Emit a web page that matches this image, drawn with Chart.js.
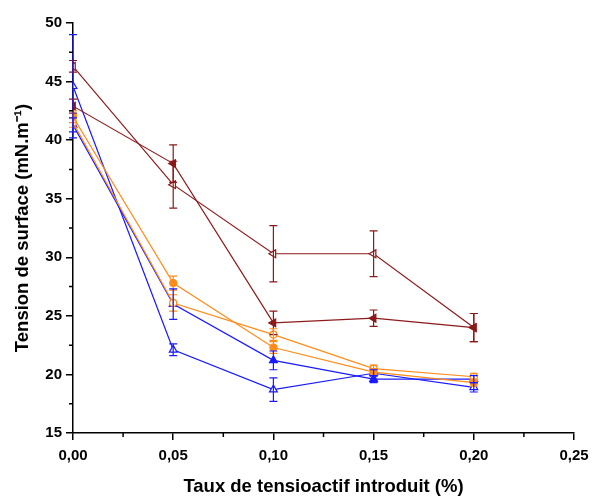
<!DOCTYPE html>
<html lang="fr">
<head>
<meta charset="UTF-8">
<title>Tension de surface</title>
<script src="https://cdn.jsdelivr.net/npm/chart.js"></script>
<style>
  html, body { margin: 0; padding: 0; background: #fff; }
  #wrap { width: 602px; height: 498px; }
</style>
</head>
<body>
<div id="wrap"><canvas id="chart" width="602" height="498"></canvas></div>
<script>
// taux de tensioactif (%)
var taux = [0, 0.05, 0.10, 0.15, 0.20];

// tension de surface (mN/m) and error bars, one pair per series
var rougePlein = [42.9, 38.0, 24.4, 24.8, 24.0];
var rougePleinErr = [0.6, 1.6, 1.0, 0.7, 1.2];
var rougeVide = [46.3, 36.2, 30.3, 30.3, 24.0];
var rougeVideErr = [0.5, 2.0, 2.4, 1.95, 1.2];
var orangePlein = [42.0, 27.8, 22.3, 20.2, 19.3];
var orangePleinErr = [0.5, 0.6, 0.5, 0.3, 0.3];
var orangeVide = [41.5, 26.1, 23.4, 20.5, 19.8];
var orangeVideErr = [0.4, 0.7, 0.5, 0.3, 0.3];
var bleuPlein = [41.3, 26.0, 21.2, 19.6, 19.6];
var bleuPleinErr = [0.6, 1.3, 0.8, 0.3, 0.3];
var bleuVide = [44.6, 22.1, 18.7, 20.1, 18.9];
var bleuVideErr = [4.4, 0.5, 1.0, 0.3, 0.4];

var yTicks = [15, 20, 25, 30, 35, 40, 45, 50];
var xTicks = [0, 0.05, 0.10, 0.15, 0.20, 0.25];

var ROUGE = '#8b1a1a', ORANGE = '#ff8c1a', BLEU = '#1a1aff';

function pts(ys, errs) {
  return taux.map(function (x, i) { return { x: x, y: ys[i], err: errs[i] }; });
}

function serie(ys, errs, color, style, filled, rot) {
  return {
    data: pts(ys, errs),
    borderColor: color,
    backgroundColor: color,
    borderWidth: 1.2,
    pointStyle: style,
    rotation: rot || 0,
    pointRadius: style === 'circle' ? 3.5 : 4.5,
    pointBorderWidth: 1.2,
    pointBorderColor: color,
    pointBackgroundColor: filled ? color : '#fff',
    tension: 0
  };
}

// error bars with caps, through the chart's scales
var errorBars = {
  id: 'errorBars',
  afterDatasetsDraw: function (chart) {
    var ctx = chart.ctx, xs = chart.scales.x, ys = chart.scales.y;
    ctx.save();
    chart.data.datasets.forEach(function (ds) {
      ctx.strokeStyle = ds.borderColor;
      ctx.lineWidth = 1.2;
      ds.data.forEach(function (p) {
        var px = xs.getPixelForValue(p.x);
        var top = ys.getPixelForValue(p.y + p.err);
        var bot = ys.getPixelForValue(p.y - p.err);
        ctx.beginPath();
        ctx.moveTo(px, top); ctx.lineTo(px, bot);
        ctx.moveTo(px - 4, top); ctx.lineTo(px + 4, top);
        ctx.moveTo(px - 4, bot); ctx.lineTo(px + 4, bot);
        ctx.stroke();
      });
    });
    ctx.restore();
  }
};

// minor ticks between the labelled ones
var minorTicks = {
  id: 'minorTicks',
  afterDraw: function (chart) {
    var ctx = chart.ctx, xs = chart.scales.x, ys = chart.scales.y;
    var area = chart.chartArea;
    ctx.save();
    ctx.strokeStyle = '#000';
    ctx.lineWidth = 1.5;
    ctx.beginPath();
    for (var i = 0; i < xTicks.length - 1; i++) {
      var px = xs.getPixelForValue((xTicks[i] + xTicks[i + 1]) / 2);
      ctx.moveTo(px, area.bottom); ctx.lineTo(px, area.bottom + 4);
    }
    for (var j = 0; j < yTicks.length - 1; j++) {
      var py = ys.getPixelForValue((yTicks[j] + yTicks[j + 1]) / 2);
      ctx.moveTo(area.left, py); ctx.lineTo(area.left - 4, py);
    }
    ctx.stroke();
    ctx.restore();
  }
};

var tickFont = { family: 'Liberation Sans, Arial, sans-serif', size: 15, weight: 'bold' };
var titleFont = { family: 'Liberation Sans, Arial, sans-serif', size: 18.5, weight: 'bold' };

new Chart(document.getElementById('chart'), {
  type: 'line',
  data: {
    datasets: [
      serie(rougePlein, rougePleinErr, ROUGE, 'triangle', true, -90),
      serie(rougeVide, rougeVideErr, ROUGE, 'triangle', false, -90),
      serie(orangePlein, orangePleinErr, ORANGE, 'circle', true),
      serie(orangeVide, orangeVideErr, ORANGE, 'circle', false),
      serie(bleuPlein, bleuPleinErr, BLEU, 'triangle', true),
      serie(bleuVide, bleuVideErr, BLEU, 'triangle', false)
    ]
  },
  options: {
    responsive: false,
    animation: false,
    layout: { padding: { left: 12, right: 28, top: 23, bottom: 0 } },
    plugins: { legend: { display: false }, tooltip: { enabled: false } },
    scales: {
      x: {
        type: 'linear',
        min: 0, max: 0.25,
        afterBuildTicks: function (s) { s.ticks = xTicks.map(function (v) { return { value: v }; }); },
        ticks: {
          color: '#000', font: tickFont, padding: 7, maxRotation: 0,
          callback: function (v) { return v.toFixed(2).replace('.', ','); }
        },
        grid: { drawOnChartArea: false, tickLength: 7, tickColor: '#000', lineWidth: 1.5 },
        border: { color: '#000', width: 1.5 },
        title: {
          display: true, text: 'Taux de tensioactif introduit (%)', color: '#000',
          font: titleFont,
          padding: { top: 20, bottom: 0 }
        },
        afterFit: function (s) { s.height = 65; }
      },
      y: {
        min: 15, max: 50,
        afterBuildTicks: function (s) { s.ticks = yTicks.map(function (v) { return { value: v }; }); },
        ticks: { color: '#000', font: tickFont, padding: 4 },
        grid: { drawOnChartArea: false, tickLength: 7, tickColor: '#000', lineWidth: 1.5 },
        border: { color: '#000', width: 1.5 },
        title: {
          display: true, text: 'Tension de surface (mN.m\u207B\u00B9)', color: '#000',
          font: titleFont,
          padding: { top: 0, bottom: 6 }
        },
        afterFit: function (s) { s.width = 61; }
      }
    }
  },
  plugins: [errorBars, minorTicks]
});
</script>
</body>
</html>
